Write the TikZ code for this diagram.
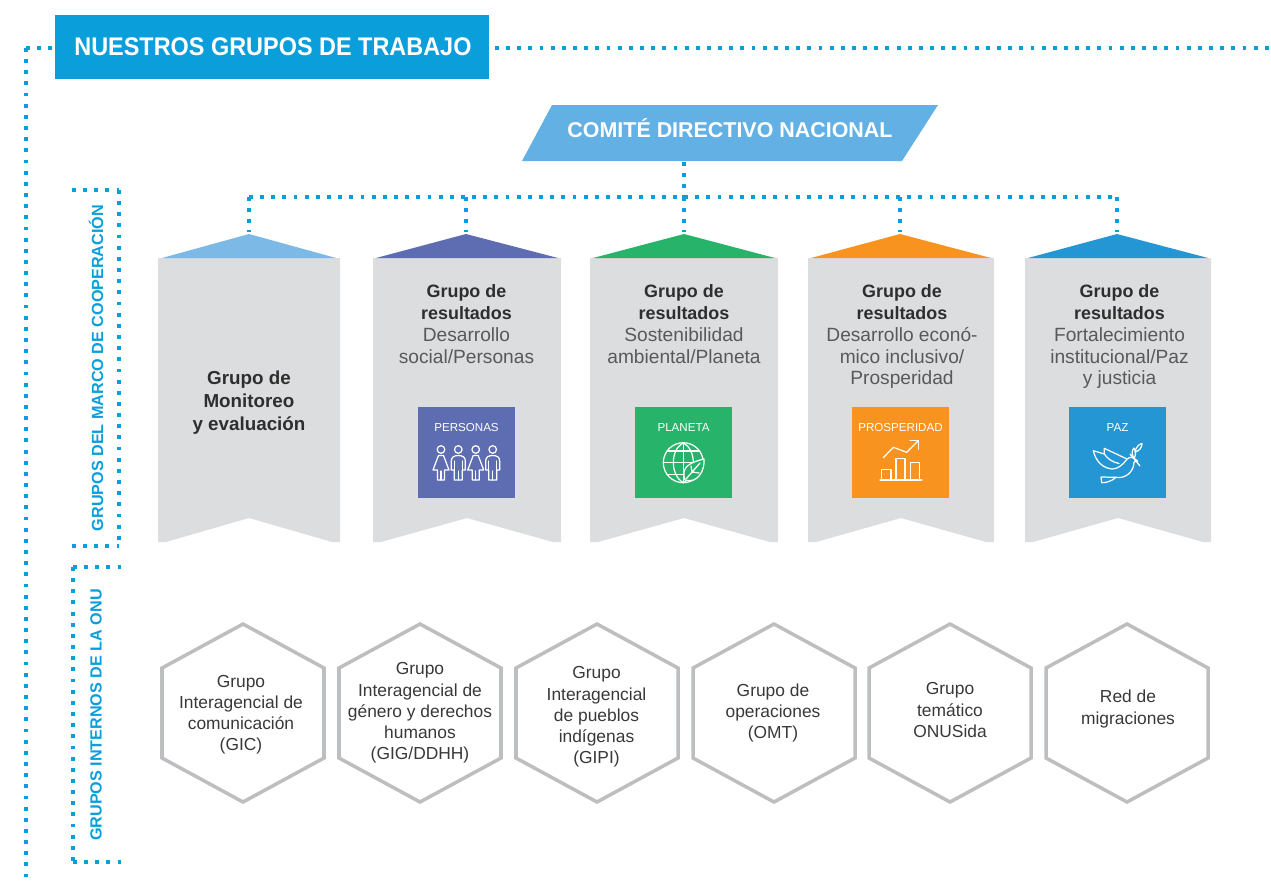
\documentclass[tikz,border=0pt]{standalone}
\usepackage{fontspec}
\setmainfont{Liberation Sans}
\newfontfamily\titlefont[FakeStretch=0.92]{Liberation Sans}
\usetikzlibrary{positioning,calc}
\definecolor{dotblue}{HTML}{0A9FDB}
\definecolor{comiteblue}{HTML}{63B1E4}
\definecolor{bannergrey}{HTML}{DCDDDF}
\definecolor{hexgrey}{HTML}{BDBEC0}
\definecolor{monitoreo}{HTML}{7DB9E6}
\definecolor{personas}{HTML}{5E6CB2}
\definecolor{planeta}{HTML}{27B36A}
\definecolor{prosperidad}{HTML}{F7931E}
\definecolor{paz}{HTML}{2596D4}
\newcommand{\grupohead}[1]{{\bfseries\color{black!82}\fontsize{10.2}{12.47}\selectfont #1}}
\tikzset{
    dotline/.style={draw=dotblue,line width=2.2pt,dash pattern=on 2.2pt off 4.15pt},
    titletext/.style={text=white,font=\titlefont\bfseries\fontsize{14.5}{17}\selectfont,inner sep=0pt},
    sidetext/.style={text=dotblue,font=\bfseries\fontsize{9.2}{10}\selectfont,rotate=90,inner sep=0pt},
    bannertext/.style={anchor=north,align=center,inner sep=0pt,text=black!65,font=\fontsize{10.9}{12.47}\selectfont},
    hextext/.style={align=center,inner sep=0pt,text=black!78,font=\fontsize{9.9}{12.05}\selectfont},
    iconbox/.style={minimum width=55pt,minimum height=51.6pt,inner sep=0pt},
    iconlabel/.style={text=white,inner sep=0pt,font=\fontsize{6.6}{8}\selectfont},
    iconline/.style={draw=white,line width=0.7pt,line join=round,line cap=round},
    hexgroup/.pic={
        \draw[hexgrey,line width=2pt,line join=miter] (0,-89) -- (81,-45) -- (81,45) -- (0,89) -- (-81,45) -- (-81,-45) -- cycle;
    },
    woman/.pic={
        \draw[iconline] (0,-12.5) circle (3.8);
        \draw[iconline] (-2.5,-6.5) -- (2.5,-6.5) -- (8,8) -- (3.5,8) -- (3.5,18) -- (-3.5,18) -- (-3.5,8) -- (-8,8) -- cycle;
        \draw[iconline] (0,9) -- (0,18);
    },
    man/.pic={
        \draw[iconline] (0,-12.5) circle (3.8);
        \draw[iconline] (-7,8) -- (-7,-1) .. controls (-7,-5) and (-4,-6.5) .. (0,-6.5) .. controls (4,-6.5) and (7,-5) .. (7,-1) -- (7,8) -- (4,8) -- (4,18) -- (-4,18) -- (-4,8) -- cycle;
        \draw[iconline] (-4,-1) -- (-4,8) (4,-1) -- (4,8) (0,9) -- (0,18);
    }
}
\begin{document}
\begin{tikzpicture}[x=0.02cm,y=-0.02cm]
    \useasboundingbox (0,0) rectangle (1271,883);
    %Title
    \fill[dotblue] (55,15) rectangle (489,79);
    \node[titletext,anchor=west] (titulo) at (74,47) {NUESTROS GRUPOS DE TRABAJO};
    \coordinate (outerLeft) at (52,48);
    \coordinate (outerCorner) at (26,48);
    \coordinate (outerBottom) at (26,883);
    \coordinate (outerStart) at (495,48);
    \coordinate (outerRight) at (1271,48);
    \draw[dotline] (outerCorner) -- (outerLeft);
    \draw[dotline] (outerCorner) -- (outerBottom);
    \draw[dotline] (outerStart) -- (outerRight);
    %Marco bracket
    \coordinate (marcoTL) at (72,190);
    \coordinate (marcoTR) at (119,190);
    \coordinate (marcoBR) at (119,546);
    \coordinate (marcoBL) at (72,546);
    \draw[dotline] (marcoTL) -- (marcoTR);
    \draw[dotline] (marcoTR) -- (marcoBR);
    \draw[dotline] (marcoBL) -- (marcoBR);
    \node[sidetext] (marco) at (96,368) {GRUPOS DEL MARCO DE COOPERACIÓN};
    %ONU bracket
    \coordinate (onuTR) at (121,567);
    \coordinate (onuTL) at (73,567);
    \coordinate (onuBL) at (73,862);
    \coordinate (onuBR) at (121,862);
    \draw[dotline] (onuTL) -- (onuTR);
    \draw[dotline] (onuTL) -- (onuBL);
    \draw[dotline] (onuBL) -- (onuBR);
    \node[sidetext] (onu) at (96,715) {GRUPOS INTERNOS DE LA ONU};
    %Comite
    \fill[comiteblue] (522,161) -- (552,105) -- (938,105) -- (902,161) -- cycle;
    \node[text=white,font=\bfseries\fontsize{12.2}{15}\selectfont,inner sep=0pt,minimum height=31.7pt] (comite) at (730,128.5) {COMITÉ DIRECTIVO NACIONAL};
    %Monitoreo
    \fill[bannergrey] (158,258) -- (340,258) -- (340,542) -- (332,542) -- (249,518) -- (166,542) -- (158,542) -- cycle;
    \fill[monitoreo] (162,258) -- (249,234) -- (336,258) -- cycle;
    \node[bannertext,text=black!82,font=\bfseries\fontsize{10.7}{13}\selectfont] (monitoreoText) at (249,371) {Grupo de\\Monitoreo\\y evaluación};
    %Personas
    \fill[bannergrey] (373,258) -- (561,258) -- (561,542) -- (553,542) -- (467,518) -- (381,542) -- (373,542) -- cycle;
    \fill[personas] (376,258) -- (466,234) -- (558,258) -- cycle;
    \node[bannertext] (personasText) at (466.5,284) {\grupohead{Grupo de}\\\grupohead{resultados}\\Desarrollo\\social/Personas};
    \node[iconbox,fill=personas] (personasBox) at (466.5,452.5) {};
    \node[iconlabel] (personasLabel) at (466.5,427.5) {PERSONAS};
    \pic at (441,462) {woman};
    \pic at (458.3,462) {man};
    \pic at (475.7,462) {woman};
    \pic at (492.7,462) {man};
    %Planeta
    \fill[bannergrey] (590,258) -- (778,258) -- (778,542) -- (770,542) -- (684,518) -- (598,542) -- (590,542) -- cycle;
    \fill[planeta] (593,258) -- (684,234) -- (775,258) -- cycle;
    \node[bannertext] (planetaText) at (684,284) {\grupohead{Grupo de}\\\grupohead{resultados}\\Sostenibilidad\\ambiental/Planeta};
    \node[iconbox,fill=planeta] (planetaBox) at (683.5,452.5) {};
    \node[iconlabel] (planetaLabel) at (683.5,427.5) {PLANETA};
    \draw[iconline] (683.3,462.7) circle (20);
    \draw[iconline] (683.3,442.7) .. controls (670,450) and (670,475) .. (683.3,482.7);
    \draw[iconline] (683.3,442.7) .. controls (696.6,450) and (696.6,475) .. (683.3,482.7);
    \draw[iconline] (683.3,442.7) -- (683.3,482.7) (663.3,462.7) -- (703.3,462.7);
    \draw[iconline] (667,451) -- (699.6,451) (667,474.4) -- (699.6,474.4);
    \filldraw[iconline,fill=planeta] (685,480) .. controls (680,466) and (692,462) .. (704,459) .. controls (705,470) and (698,484) .. (685,480);
    \draw[iconline] (686,479) -- (700,463) (692,472) -- (691,466) (692,472) -- (699,473);
    %Prosperidad
    \fill[bannergrey] (808,258) -- (994,258) -- (994,542) -- (986,542) -- (901,518) -- (816,542) -- (808,542) -- cycle;
    \fill[prosperidad] (811,258) -- (900,234) -- (991,258) -- cycle;
    \node[bannertext] (prosperidadText) at (902,284) {\grupohead{Grupo de}\\\grupohead{resultados}\\Desarrollo econó-\\mico inclusivo/\\Prosperidad};
    \node[iconbox,fill=prosperidad] (prosperidadBox) at (900.5,452.5) {};
    \node[iconlabel] (prosperidadLabel) at (900.5,427.5) {PROSPERIDAD};
    \draw[iconline] (880,480) -- (922,480);
    \draw[iconline] (881.7,480) -- (881.7,469.3) -- (891,469.3) -- (891,480);
    \draw[iconline] (896,480) -- (896,458.7) -- (905,458.7) -- (905,480);
    \draw[iconline] (910.3,480) -- (910.3,462.3) -- (919.3,462.3) -- (919.3,480);
    \draw[iconline] (883.3,457.7) -- (893.3,447.3) -- (906.7,452.3) -- (918.3,440.7);
    \draw[iconline] (910,440.7) -- (918.3,440.7) -- (918.3,449.3);
    %Paz
    \fill[bannergrey] (1025,258) -- (1211,258) -- (1211,542) -- (1203,542) -- (1118,518) -- (1033,542) -- (1025,542) -- cycle;
    \fill[paz] (1028,258) -- (1117,234) -- (1208,258) -- cycle;
    \node[bannertext] (pazText) at (1119.5,284) {\grupohead{Grupo de}\\\grupohead{resultados}\\Fortalecimiento\\institucional/Paz\\y justicia};
    \node[iconbox,fill=paz] (pazBox) at (1117.5,452.5) {};
    \node[iconlabel] (pazLabel) at (1117.5,427.5) {PAZ};
    \draw[iconline] (1093.3,450.7) -- (1104.3,454) -- (1104.3,448.3) -- (1127,459) .. controls (1129,457) and (1131,457) .. (1133.3,457.7) -- (1137.7,461) -- (1134,462) .. controls (1134,472) and (1125,479) .. (1116,477.3) -- (1101,477) -- (1101.7,482.7) .. controls (1106,483) and (1112,481) .. (1116,477.3);
    \draw[iconline] (1093.3,450.7) .. controls (1096,462) and (1103,468) .. (1112,469) .. controls (1117,469) and (1122,466) .. (1127,459);
    \draw[iconline] (1104.3,454) .. controls (1108,459) and (1112,462) .. (1119,463.5);
    \draw[iconline] (1130,454) -- (1140,466);
    \draw[iconline] (1134,458.5) .. controls (1131,454) and (1132,450) .. (1134,448) .. controls (1136,451) and (1136,455) .. (1134,458.5);
    \draw[iconline] (1135,452) .. controls (1136,447) and (1139,444) .. (1142,443.5) .. controls (1142,448) and (1139,451) .. (1135,452);
    %Connectors
    \coordinate (busMonitoreo) at (249,197);
    \coordinate (busPersonas) at (466,197);
    \coordinate (busPlaneta) at (684,197);
    \coordinate (busProsperidad) at (900,197);
    \coordinate (busPaz) at (1117,197);
    \coordinate (topMonitoreo) at (249,232);
    \coordinate (topPersonas) at (466,232);
    \coordinate (topPlaneta) at (684,232);
    \coordinate (topProsperidad) at (900,232);
    \coordinate (topPaz) at (1117,232);
    \draw[dotline] ($(comite.south -| busPlaneta)+(0,5)$) -- (busPlaneta);
    \draw[dotline] (busMonitoreo) -- (busPaz);
    \draw[dotline] (busMonitoreo) -- (topMonitoreo);
    \draw[dotline] (busPersonas) -- (topPersonas);
    \draw[dotline] (busPlaneta) -- (topPlaneta);
    \draw[dotline] (busProsperidad) -- (topProsperidad);
    \draw[dotline] (busPaz) -- (topPaz);
    %Hexagons
    \pic at (243,713) {hexgroup};
    \node[hextext] (gic) at (241,714.5) {Grupo\\Interagencial de\\comunicación\\(GIC)};
    \pic at (420,713) {hexgroup};
    \node[hextext] (gig) at (420,713) {Grupo\\Interagencial de\\género y derechos\\humanos\\(GIG/DDHH)};
    \pic at (597,713) {hexgroup};
    \node[hextext] (gipi) at (596.5,717) {Grupo\\Interagencial\\de pueblos\\indígenas\\(GIPI)};
    \pic at (774,713) {hexgroup};
    \node[hextext] (omt) at (773,713) {Grupo de\\operaciones\\(OMT)};
    \pic at (950,713) {hexgroup};
    \node[hextext] (onusida) at (950,710) {Grupo\\temático\\ONUSida};
    \pic at (1127,713) {hexgroup};
    \node[hextext] (red) at (1128,709) {Red de\\migraciones};
\end{tikzpicture}
\end{document}
